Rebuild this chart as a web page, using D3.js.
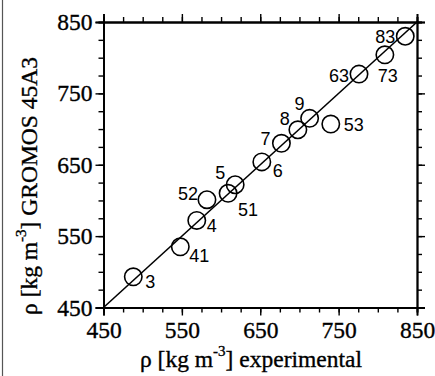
<!DOCTYPE html>
<html>
<head>
<meta charset="utf-8">
<script src="https://cdn.jsdelivr.net/npm/d3@7"></script>
<style>
  html, body { margin: 0; padding: 0; background: #fff; }
  svg { display: block; }
</style>
</head>
<body>
<div id="chart"></div>
<script>
// density values (kg m^-3)
const labels = ['3', '41', '4', '52', '51', '5', '6', '7', '8', '9', '53', '63', '73', '83'];
const experimental = [488, 548, 569, 582, 609, 618, 652, 677, 698, 713, 740, 776, 809, 835];
const gromos = [493, 535, 572, 601, 610, 622, 654, 680, 699, 715, 707, 777, 804, 830];
const majorTicks = [450, 550, 650, 750, 850];
const diagonal = [450, 850];

// where each point label sits relative to its circle
const labelPos = {
  '3': [12, 11, 'start'], '41': [9, 15, 'start'], '4': [10, 12, 'start'],
  '52': [-9, 0, 'end'], '51': [10, 23, 'start'], '5': [-10, -6, 'end'],
  '6': [11, 15, 'start'], '7': [-11, 2, 'end'], '8': [-8, -5, 'end'],
  '9': [-5, -8, 'end'], '53': [13, 7, 'start'], '63': [-10, 8, 'end'],
  '73': [-7, 27, 'start'], '83': [-10, 7, 'end']
};

const width = 435;
const height = 376;
const margin = { left: 103.5, right: 18, top: 22, bottom: 68.5 };

const svg = d3.select('#chart').append('svg')
    .attr('width', width)
    .attr('height', height);

// scanned page edge
svg.append('line')
    .attr('x1', 2.5).attr('x2', 2.5)
    .attr('y1', 0).attr('y2', height)
    .attr('stroke', '#555')
    .attr('stroke-width', 1.2);

const x = d3.scaleLinear().domain([450, 850]).range([margin.left, width - margin.right]);
const y = d3.scaleLinear().domain([450, 850]).range([height - margin.bottom, margin.top]);

const minorTicks = d3.range(450, 851, 25);
const serif = '"Liberation Serif", "Times New Roman", serif';

function styleAxis(g) {
  g.select('.domain').attr('stroke-width', 1.8);
  g.selectAll('.tick line').attr('stroke-width', 1.4);
}

function serifText(sel) {
  sel.attr('font-family', serif)
     .attr('font-size', 23.5)
     .attr('fill', '#000')
     .attr('stroke', '#000')
     .attr('stroke-width', 0.35);
}

// minor ticks on all four sides
const minors = [
  [d3.axisBottom(x), `translate(0,${y(450)})`],
  [d3.axisTop(x), `translate(0,${y(850)})`],
  [d3.axisLeft(y), `translate(${x(450)},0)`],
  [d3.axisRight(y), `translate(${x(850)},0)`]
];
minors.forEach(([ax, tr]) => {
  svg.append('g')
      .attr('transform', tr)
      .call(ax.tickValues(minorTicks).tickSize(5).tickFormat(''))
      .call(styleAxis);
});

// major ticks, labelled on bottom and left
svg.append('g')
    .attr('transform', `translate(0,${y(450)})`)
    .call(d3.axisBottom(x).tickValues(majorTicks).tickSize(8).tickFormat(d3.format('d')))
    .call(styleAxis)
    .call(g => g.selectAll('text')
        .attr('y', 30).attr('dy', null)
        .call(serifText));

svg.append('g')
    .attr('transform', `translate(${x(450)},0)`)
    .call(d3.axisLeft(y).tickValues(majorTicks).tickSize(8).tickFormat(d3.format('d')))
    .call(styleAxis)
    .call(g => g.selectAll('text').attr('x', -11).call(serifText));

svg.append('g')
    .attr('transform', `translate(0,${y(850)})`)
    .call(d3.axisTop(x).tickValues(majorTicks).tickSize(8).tickFormat(''))
    .call(styleAxis);

svg.append('g')
    .attr('transform', `translate(${x(850)},0)`)
    .call(d3.axisRight(y).tickValues(majorTicks).tickSize(8).tickFormat(''))
    .call(styleAxis);

// y = x reference line
svg.append('path')
    .datum(diagonal)
    .attr('fill', 'none')
    .attr('stroke', '#000')
    .attr('stroke-width', 1.6)
    .attr('d', d3.line().x(d => x(d)).y(d => y(d)));

const points = labels.map((name, i) => ({ name, ex: experimental[i], sim: gromos[i] }));

svg.append('g')
  .selectAll('circle')
  .data(points)
  .join('circle')
    .attr('cx', d => x(d.ex))
    .attr('cy', d => y(d.sim))
    .attr('r', 8.7)
    .attr('fill', 'none')
    .attr('stroke', '#000')
    .attr('stroke-width', 1.6);

svg.append('g')
    .attr('font-family', '"Liberation Sans", Arial, sans-serif')
    .attr('font-size', 18)
  .selectAll('text')
  .data(points)
  .join('text')
    .attr('x', d => x(d.ex) + labelPos[d.name][0])
    .attr('y', d => y(d.sim) + labelPos[d.name][1])
    .attr('text-anchor', d => labelPos[d.name][2])
    .text(d => d.name);

// axis titles
const xTitle = svg.append('text')
    .attr('x', 251)
    .attr('y', 367)
    .attr('text-anchor', 'middle')
    .call(serifText);
xTitle.append('tspan').text('ρ [kg m');
xTitle.append('tspan').attr('dy', -11).attr('font-size', 15).text('-3');
xTitle.append('tspan').attr('dy', 11).text('] experimental');

const yTitle = svg.append('text')
    .attr('transform', 'translate(37,186) rotate(-90)')
    .attr('text-anchor', 'middle')
    .call(serifText);
yTitle.append('tspan').text('ρ [kg m');
yTitle.append('tspan').attr('dy', -11).attr('font-size', 15).text('-3');
yTitle.append('tspan').attr('dy', 11).text(']  GROMOS 45A3');
</script>
</body>
</html>
